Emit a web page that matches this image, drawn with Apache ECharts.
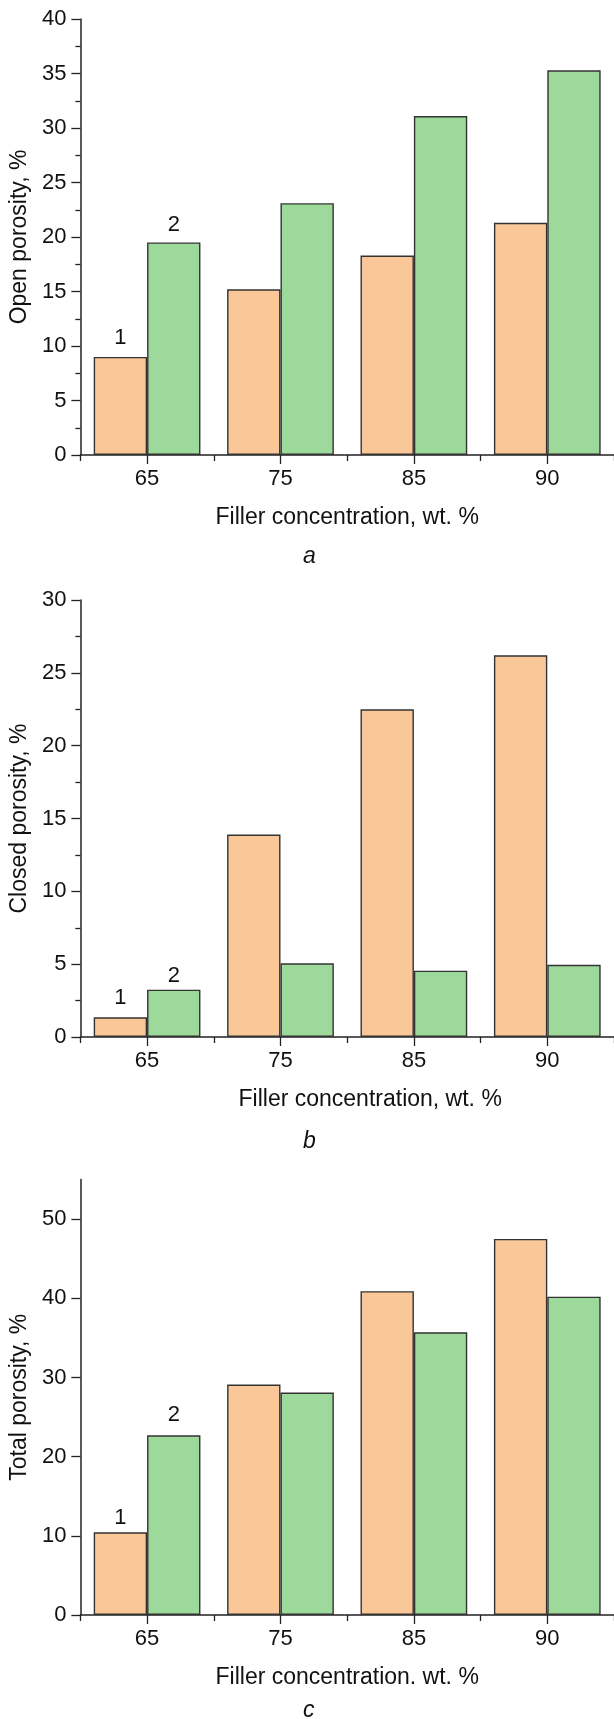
<!DOCTYPE html>
<html><head><meta charset="utf-8">
<script src="https://cdn.jsdelivr.net/npm/echarts@6/dist/echarts.min.js"></script>
<style>html,body{margin:0;padding:0;background:#fff}#c{width:614px;height:1719px}</style>
</head><body><div id="c"></div>
<script>
const categories = ['65', '75', '85', '90'];
const seriesNames = ['1', '2'];
const openS1 = [9.0, 15.2, 18.3, 21.3];
const openS2 = [19.5, 23.1, 31.1, 35.3];
const closedS1 = [1.35, 13.9, 22.5, 26.2];
const closedS2 = [3.25, 5.06, 4.55, 4.96];
const totalS1 = [10.44, 29.1, 40.9, 47.5];
const totalS2 = [22.7, 28.1, 35.7, 40.2];
const yMax = [40, 30, 55];
const yInterval = [5, 5, 10];
const yTicksTotal = [0, 10, 20, 30, 40, 50];
const yTitles = ['Open porosity, %', 'Closed porosity, %', 'Total porosity, %'];
const xTitles = ['Filler concentration, wt. %', 'Filler concentration, wt. %', 'Filler concentration. wt. %'];
const panelLetters = ['a', 'b', 'c'];

const FONT = 'Liberation Sans, Arial, Helvetica, sans-serif';
const AX = '#222';
const COL1 = '#FAC898', COL2 = '#9ED99C';
const panelValues = [[openS1, openS2], [closedS1, closedS2], [totalS1, totalS2]];

const grids = [
  {left: 78, width: 541, top: 19, height: 436},
  {left: 78, width: 541, top: 600, height: 437},
  {left: 78, width: 541, top: 1179.5, height: 435.5}
];
const xTitlePad = [[0,0,0,0],[0,0,0,46],[0,0,0,0]];
const labelDist = [[8, 7], [8, 3], [3, 9]];
const letterY = [557, 1142, 1711];

const xAxes = [], yAxes = [], series = [], graphics = [];
grids.forEach((g, i) => {
  xAxes.push({
    type: 'category', gridIndex: i, data: categories, position: 'bottom',
    axisLine: {show: true, lineStyle: {color: AX, width: 1.5}},
    axisTick: {show: true, alignWithLabel: true, length: 9, lineStyle: {color: AX, width: 1.3}},
    axisLabel: {fontSize: 22, color: '#111', margin: 13, fontFamily: FONT},
    name: xTitles[i], nameLocation: 'middle', nameGap: 51,
    nameTextStyle: {fontSize: 23, color: '#111', fontFamily: FONT, padding: xTitlePad[i]},
    splitLine: {show: false}
  });
  xAxes.push({
    type: 'category', gridIndex: i, data: categories, position: 'bottom',
    axisLine: {show: false},
    axisTick: {show: true, length: 6, lineStyle: {color: AX, width: 1.3}},
    axisLabel: {show: false}, splitLine: {show: false}
  });
  const y = {
    type: 'value', gridIndex: i, min: 0, max: yMax[i], interval: yInterval[i],
    axisLine: {show: true, lineStyle: {color: AX, width: 1.5}},
    axisTick: {show: true, length: 9, lineStyle: {color: AX, width: 1.3}},
    axisLabel: {fontSize: 22, color: '#111', margin: 14, fontFamily: FONT},
    splitLine: {show: false},
    name: yTitles[i], nameLocation: 'middle', nameGap: 44,
    nameTextStyle: {fontSize: 23, color: '#111', fontFamily: FONT}
  };
  if (i < 2) {
    y.minorTick = {show: true, splitNumber: 2, length: 5, lineStyle: {color: AX, width: 1.3}};
  } else {
    y.axisTick.customValues = yTicksTotal;
    y.axisLabel.customValues = yTicksTotal;
  }
  yAxes.push(y);
  const mainY = yAxes.length - 1;
  if (i === 2) {
    yAxes.push({
      type: 'value', gridIndex: i, min: 0, max: yMax[i], interval: yInterval[i] / 2,
      axisLine: {show: false},
      axisTick: {show: true, length: 5, lineStyle: {color: AX, width: 1.3}},
      axisLabel: {show: false}, splitLine: {show: false}
    });
  }
  const xIdx = i * 2;
  panelValues[i].forEach((vals, s) => {
    series.push({
      type: 'bar', name: seriesNames[s], xAxisIndex: xIdx, yAxisIndex: mainY,
      barGap: '0%', barCategoryGap: '20%',
      itemStyle: {color: s === 0 ? COL1 : COL2, borderColor: '#333', borderWidth: 1.4},
      data: vals.map((v, j) => j === 0 ? {
        value: v,
        label: {show: true, position: 'top', distance: labelDist[i][s], formatter: seriesNames[s],
                fontSize: 22, color: '#111', fontFamily: FONT}
      } : v),
      z: 1
    });
  });
  graphics.push({
    type: 'text', left: 303, top: letterY[i] - 12,
    style: {text: panelLetters[i], font: 'italic 23px ' + FONT, fill: '#111'}
  });
});

const chart = echarts.init(document.getElementById('c'), null, {renderer: 'canvas'});
chart.setOption({
  animation: false,
  backgroundColor: '#fff',
  grid: grids,
  xAxis: xAxes,
  yAxis: yAxes,
  series: series,
  graphic: graphics
});
</script></body></html>
